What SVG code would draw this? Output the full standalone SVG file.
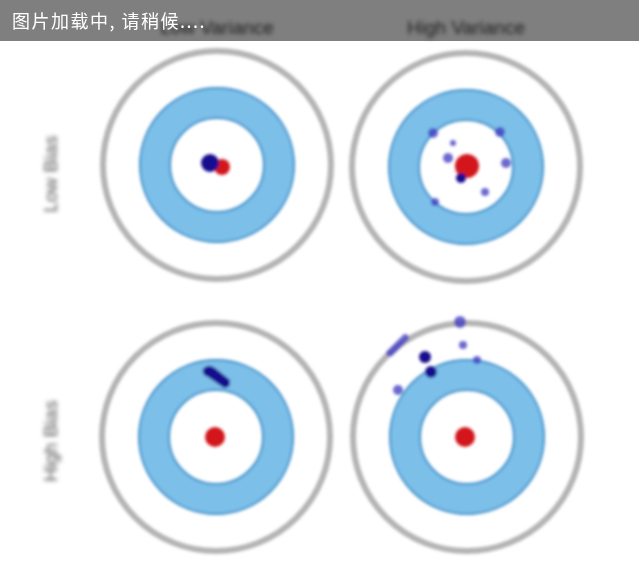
<svg xmlns="http://www.w3.org/2000/svg" width="639" height="569" viewBox="0 0 639 569">
<defs>
<filter id="blur" x="-20%" y="-20%" width="140%" height="140%"><feGaussianBlur stdDeviation="1.5"/></filter>
<filter id="tblur" x="-20%" y="-50%" width="140%" height="200%"><feGaussianBlur stdDeviation="2.2"/></filter>
<g id="target">
<circle r="114" fill="none" stroke="#b4b4b4" stroke-width="6"/>
<circle r="62" fill="none" stroke="#7cbfe9" stroke-width="31"/>
<circle r="77" fill="none" stroke="#3d8fc9" stroke-width="2"/>
<circle r="47" fill="none" stroke="#3d8fc9" stroke-width="2"/>
</g>
</defs>
<style>
.lbl{font-family:"Liberation Sans",Arial,sans-serif;font-size:19px;fill:#3a3a3a;text-anchor:middle}
.side{fill:#555555}
.red{fill:#d2141c}
.hit{fill:#12108e}
.hit2{fill:#3b36c0;opacity:.75}
.banner{font-family:"Noto Sans CJK SC","Noto Sans",serif;font-size:18px;letter-spacing:1.5px;fill:#ffffff}
</style>
<rect width="639" height="569" fill="#ffffff"/>
<g filter="url(#tblur)">
<text class="lbl" x="217" y="34">Low Variance</text>
<text class="lbl" x="466" y="34">High Variance</text>
<text class="lbl side" transform="translate(57 174) rotate(-90)">Low Bias</text>
<text class="lbl side" transform="translate(57 441) rotate(-90)">High Bias</text>
</g>
<g filter="url(#blur)">
<g id="lowbias-lowvar">
<use href="#target" x="217" y="165"/>
<circle class="red" cx="222" cy="167" r="8"/>
<circle class="hit" cx="210" cy="163" r="9"/>
</g>
<g id="lowbias-highvar">
<use href="#target" x="466" y="167"/>
<circle class="red" cx="467" cy="166" r="12"/>
<circle class="hit" cx="461" cy="178" r="5"/>
<circle class="hit2" cx="433" cy="133" r="5"/>
<circle class="hit2" cx="500" cy="132" r="5"/>
<circle class="hit2" cx="448" cy="158" r="5"/>
<circle class="hit2" cx="453" cy="143" r="3"/>
<circle class="hit2" cx="506" cy="163" r="5"/>
<circle class="hit2" cx="485" cy="192" r="4"/>
<circle class="hit2" cx="435" cy="202" r="4"/>
</g>
<g id="highbias-lowvar">
<use href="#target" x="216" y="437"/>
<circle class="red" cx="215" cy="437" r="10"/>
<path class="hit" d="M203 369 Q208 363 215 368 L230 380 Q231 388 224 388 L208 377 Q201 374 203 369Z"/>
</g>
<g id="highbias-highvar">
<use href="#target" x="467" y="437"/>
<circle class="red" cx="465" cy="437" r="10"/>
<circle class="hit2" cx="460" cy="322" r="6"/>
<path class="hit2" d="M386 352 L404 334 Q410 334 409 339 L392 356 Q386 358 386 352Z"/>
<circle class="hit" cx="425" cy="357" r="6"/>
<circle class="hit" cx="431" cy="372" r="6"/>
<circle class="hit2" cx="463" cy="345" r="4"/>
<circle class="hit2" cx="477" cy="360" r="4"/>
<circle class="hit2" cx="398" cy="390" r="5"/>
</g>
</g>
<rect x="0" y="0" width="639" height="41" fill="#000000" fill-opacity="0.5"/>
<text class="banner" x="12" y="28">图片加载中, 请稍候....</text>
</svg>
